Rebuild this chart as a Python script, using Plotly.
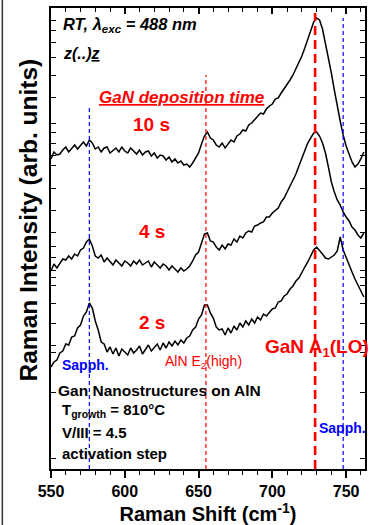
import plotly.graph_objects as go

# Raman shift grid (cm^-1)
shift = list(range(550, 764, 2))

# Spectra (arb. units)
int_10s = [310,317,314,315,319,322,317,321,324,320,
           323,327,323,329,326,320,322,317,321,322,
           316,319,321,317,322,318,316,321,318,315,
           319,314,317,318,313,316,311,314,313,309,
           312,307,310,306,308,304,305,302,306,311,
           316,325,333,337,331,329,324,322,326,321,
           325,329,327,333,335,339,338,344,346,349,
           352,356,355,360,363,365,370,371,376,380,
           384,389,394,400,406,413,421,430,439,447,
           451,449,440,426,411,396,379,362,348,334,
           323,315,307,302,305,310,317]
int_4s = [198,205,201,206,210,209,213,210,215,213,
          219,221,227,230,223,213,211,214,207,211,
          208,204,209,206,203,208,206,203,208,205,
          209,204,206,208,202,207,204,201,205,203,
          199,203,200,197,201,198,200,203,208,214,
          217,226,235,236,228,227,222,219,224,220,
          225,224,230,227,233,231,236,238,237,243,
          244,246,247,252,252,256,259,261,267,271,
          277,283,289,295,303,311,319,326,331,336,
          337,333,326,316,302,287,277,269,264,257,
          252,248,242,239,234,231,236]
int_2s = [102,107,109,116,118,125,124,132,133,141,
          144,153,157,166,161,148,139,127,125,117,
          122,115,121,113,120,117,114,121,116,119,
          123,115,120,124,118,122,125,119,126,121,
          127,123,128,124,129,126,131,133,139,142,
          150,154,164,164,156,151,142,139,140,134,
          141,136,143,139,146,142,148,144,150,146,
          152,149,155,153,157,160,161,167,168,173,
          175,180,183,188,191,197,202,207,213,219,
          222,219,215,211,210,212,214,218,232,219,
          211,204,197,190,184,178,172]
assert len(int_10s) == len(int_4s) == len(int_2s) == len(shift)

# Reference peak positions (cm^-1) and the top of each marker line (arb. units)
sapph_low = 576
aln_e2 = 655
gan_a1 = 729
sapph_high = 748
marker_tops = [362, 394, 456, 451]

y_ticks = [449, 439, 427, 412, 394, 372, 346, 337, 326, 314, 304, 281, 259, 237, 223,
           212, 199, 192, 184, 166, 146, 124, 117, 77, 11]
x_ticks = [550, 600, 650, 700, 750]

FONT = "Liberation Sans, Arial, sans-serif"
RED = "#ff0000"
BLUE = "#0000ff"

fig = go.Figure()
for ys in (int_10s, int_4s, int_2s):
    fig.add_trace(go.Scatter(x=shift, y=ys, mode="lines",
                             line=dict(color="black", width=1.5), showlegend=False,
                             hoverinfo="skip"))

markers = [
    (sapph_low, marker_tops[0], BLUE, 1.2, "4px,3px"),
    (aln_e2, marker_tops[1], RED, 1.2, "4px,3px"),
    (gan_a1, marker_tops[2], RED, 2.6, "9px,5px"),
    (sapph_high, marker_tops[3], BLUE, 1.2, "4px,3px"),
]
for xv, top, col, w, dash in markers:
    fig.add_trace(go.Scatter(x=[xv, xv], y=[0, top], mode="lines",
                             line=dict(color=col, width=w, dash=dash),
                             showlegend=False, hoverinfo="skip"))

fig.add_trace(go.Scatter(x=[550], y=[0], xaxis="x2", mode="markers",
                         marker=dict(opacity=0), showlegend=False, hoverinfo="skip"))

def ann(text, x, y, size, color="black", xanchor="left", bold=True, italic=False,
        under=False, angle=0, xref="x", yref="y"):
    fig.add_annotation(text=text, x=x, y=y, xref=xref, yref=yref, showarrow=False,
                       xanchor=xanchor, yanchor="middle", textangle=angle,
                       font=dict(family=FONT, size=size, color=color,
                                 weight="bold" if bold else "normal",
                                 style="italic" if italic else "normal",
                                 lineposition="under" if under else "none"))

ann("RT, λ<sub>exc</sub> = 488 nm", 556.5, 444, 16.5, italic=True)
ann("z(..)<span style='text-decoration:underline'>z</span>", 556.5, 416, 16, italic=True)
ann("GaN deposition time", 581.5, 372, 17, color=RED, italic=True, under=True)
ann("10 s", 618, 345, 19, color=RED, xanchor="center")
ann("4 s", 618.5, 238, 19, color=RED, xanchor="center")
ann("2 s", 618.5, 147, 19, color=RED, xanchor="center")
ann("Sapph.", 556.3, 104, 14, color=BLUE)
ann("AlN E<sub>2</sub>(high)", 653.5, 107, 14, color=RED, xanchor="center", bold=False)
ann("GaN A<sub>1</sub>(LO)", 693.5, 121, 19, color=RED)
ann("Gan Nanostructures on AlN", 553.2, 79, 15.5)
ann("T<sub>growth</sub> = 810°C", 556, 59, 15)
ann("V/III = 4.5", 556, 37, 15)
ann("activation step", 556, 16, 15)
ann("Sapph.", 730, 41, 14, color=BLUE)
ann("Raman Intensity (arb. units)", -0.072, 0.54, 24.5, angle=-90, xref="paper",
    yref="paper", xanchor="center")

fig.add_shape(type="line", xref="paper", yref="paper", x0=-0.155, x1=-0.155,
              y0=-0.125, y1=1.02, line=dict(color="#333333", width=1.5))

fig.update_layout(
    width=370, height=525,
    margin=dict(l=51, r=3, t=8, b=56),
    paper_bgcolor="white", plot_bgcolor="white",
    font=dict(family=FONT, color="black"),
    xaxis=dict(range=[550, 762.8], showline=True, linecolor="black", linewidth=2,
               ticks="outside", ticklen=7, tickwidth=1.5, tickcolor="black",
               tickvals=x_ticks, showgrid=False, zeroline=False,
               tickfont=dict(family=FONT, size=16, weight="bold"),
               minor=dict(dtick=10, ticks="outside", ticklen=4, tickwidth=1.2,
                          tickcolor="black", showgrid=False),
               title=dict(text="Raman Shift (cm<sup>-1</sup>)", standoff=4,
                          font=dict(family=FONT, size=20, weight="bold"))),
    xaxis2=dict(range=[550, 762.8], overlaying="x", side="top", anchor="y",
                showline=True, linecolor="black", linewidth=2,
                ticks="inside", ticklen=6, tickwidth=1.5, tickcolor="black",
                tickvals=x_ticks, showticklabels=False, showgrid=False, zeroline=False,
                minor=dict(dtick=10, ticks="inside", ticklen=4, tickwidth=1.2,
                           tickcolor="black", showgrid=False)),
    yaxis=dict(range=[0, 461], showline=True, linecolor="black", linewidth=2,
               mirror="ticks", ticks="inside", ticklen=5, tickwidth=1.3,
               tickcolor="black", tickvals=y_ticks, showticklabels=False,
               showgrid=False, zeroline=False),
)

fig.write_html("out.html", config={"displayModeBar": False},
               post_script="document.body.style.margin='0px';")
